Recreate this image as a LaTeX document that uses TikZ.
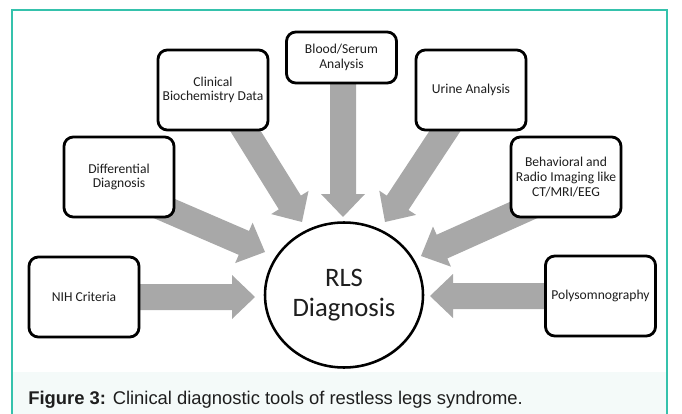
\documentclass[tikz,border=0pt]{standalone}
\usepackage{fontspec}
\setmainfont{Carlito}
\newfontfamily\capfont{Liberation Sans}
\usetikzlibrary{calc,shapes.geometric,shadows}
\definecolor{tealline}{HTML}{35C2AC}
\definecolor{arrowgray}{HTML}{A8A8A8}
\definecolor{captint}{HTML}{F4FAF9}
\definecolor{txt}{HTML}{1E1E1E}
\pgfdeclarelayer{bg}
\pgfsetlayers{bg,main}
\newcommand\blockarrow[2]{%
  \path ($(#2)!17.25pt!(#1)$) coordinate (ah);
  \fill[arrowgray] ($(#1)!9.75pt!90:(#2)$) -- ($(ah)!9.75pt!90:(#2)$)
    -- ($(ah)!16.5pt!90:(#2)$) -- (#2) -- ($(ah)!16.5pt!-90:(#2)$)
    -- ($(ah)!9.75pt!-90:(#2)$) -- ($(#1)!9.75pt!-90:(#2)$) -- cycle;}
\tikzset{
  tool/.style={draw=black, line width=2.1pt, rounded corners=7pt, fill=white,
    minimum width=82.5pt, minimum height=60pt, align=center, inner sep=2pt,
    font=\fontsize{10.2}{11}\selectfont, text=txt,
    drop shadow={shadow xshift=0.8pt, shadow yshift=-0.8pt, opacity=0.3, fill=black}},
  hub/.style={ellipse, draw=black, line width=1.9pt, fill=white,
    minimum width=118.5pt, minimum height=108.75pt, inner sep=0pt, align=center,
    font=\fontsize{20}{22}\selectfont, text=txt,
    drop shadow={shadow xshift=0.8pt, shadow yshift=-0.8pt, opacity=0.25, fill=black}}
}
\begin{document}
\begin{tikzpicture}[x=0.75pt,y=-0.75pt]
\useasboundingbox (0,0) rectangle (682,414);
\fill[captint] (13,372) rectangle (666,414);
\draw[tealline, line width=1.2pt] (12,420) -- (12,10) -- (667,10) -- (667,420);

\node[hub] (rls) at (344,295) {RLS\\Diagnosis};

\node[tool] (nih) at (84,297) {NIH Criteria};
\node[tool] (diff) at (119,177) {Differential\\Diagnosis};
\node[tool] (bio) at (213,90) {Clinical\\Biochemistry Data};
\node[tool, minimum height=38.25pt] (blood) at (341.5,57.5) {Blood/Serum\\Analysis};
\node[tool] (urine) at (471,90) {Urine Analysis};
\node[tool] (behav) at (566,177) {Behavioral and\\Radio Imaging like\\CT/MRI/EEG};
\node[tool] (poly) at (600.5,296) {Polysomnography};

\coordinate (t1) at (255,297);
\coordinate (t2) at (265,252);
\coordinate (t3) at (302,222);
\coordinate (t4) at (343,217);
\coordinate (t5) at (385,222);
\coordinate (t6) at (421,256);
\coordinate (t7) at (430,296);

\begin{pgfonlayer}{bg}
\blockarrow{nih.center}{t1}
\blockarrow{$(diff.center)+(0,12)$}{t2}
\blockarrow{$(bio.center)+(7,0)$}{t3}
\blockarrow{$(blood.center)+(1.5,0)$}{t4}
\blockarrow{$(urine.center)+(1,0)$}{t5}
\blockarrow{$(behav.center)+(0,14)$}{t6}
\blockarrow{poly.center}{t7}
\end{pgfonlayer}

\node[anchor=west, font=\capfont\fontsize{13.8}{16}\selectfont, text=txt, inner sep=0pt] (cap) at (28,400)
  {\textbf{Figure 3:} Clinical diagnostic tools of restless legs syndrome.};
\end{tikzpicture}
\end{document}
